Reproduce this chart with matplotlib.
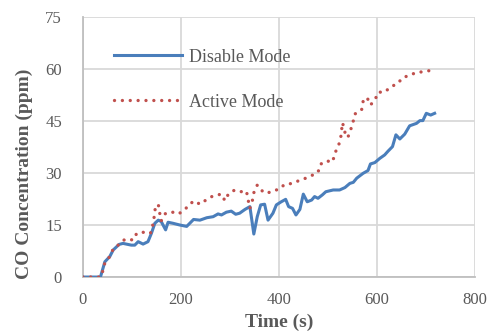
import matplotlib
matplotlib.use("Agg")
import matplotlib.pyplot as plt

# Disable Mode (blue solid line)
disable_t = [0, 20, 36, 45, 55, 62, 74, 82, 99, 106, 113, 123, 133, 140, 147, 154,
             160, 169, 174, 184, 198, 212, 226, 239, 253, 266, 276, 283, 293, 303,
             312, 320, 331, 341, 349, 356, 363, 371, 378, 388, 395, 405, 414, 420,
             428, 435, 443, 450, 458, 467, 473, 480, 489, 496, 511, 524, 535, 545,
             552, 559, 572, 582, 587, 596, 606, 616, 623, 632, 639, 647, 657, 667,
             681, 688, 694, 701, 710, 718]
disable_ppm = [0, 0, 0, 4.4, 5.9, 7.8, 9.4, 9.7, 9.2, 9.2, 10.2, 9.5, 10.2, 12.6,
               15.5, 16.4, 16.0, 13.6, 15.8, 15.5, 15.0, 14.6, 16.6, 16.4, 17.1,
               17.4, 18.2, 17.9, 18.7, 19.0, 18.1, 18.4, 19.5, 20.3, 12.4, 17.4,
               20.8, 21.0, 16.4, 18.4, 20.8, 21.7, 22.4, 20.3, 19.8, 17.9, 19.5,
               23.9, 21.7, 22.2, 23.2, 22.7, 23.7, 24.6, 25.1, 25.1, 25.8, 27.0,
               27.3, 28.5, 29.9, 30.7, 32.6, 33.0, 34.2, 35.2, 36.3, 37.6, 41.0,
               39.8, 41.2, 43.6, 44.3, 45.1, 45.1, 47.2, 46.7, 47.2]

# Active Mode (red dotted line)
active_t = [0, 21, 36, 41, 45, 55, 62, 74, 86, 103, 110, 123, 138, 142, 145, 147,
            154, 157, 160, 169, 183, 196, 208, 217, 225, 240, 253, 266, 283, 290,
            297, 310, 324, 334, 337, 341, 346, 349, 356, 363, 375, 387, 400, 412,
            428, 441, 455, 469, 480, 485, 496, 510, 514, 521, 526, 528, 530, 533,
            537, 541, 547, 552, 555, 562, 569, 572, 580, 587, 596, 603, 616, 629,
            642, 653, 666, 681, 697, 714]
active_ppm = [0, 0, 0, 1.8, 4.1, 5.9, 8.1, 9.4, 10.9, 10.7, 12.6, 12.9, 12.6, 14.5,
              16.6, 19.3, 21.0, 18.4, 16.2, 18.4, 18.7, 18.2, 19.6, 20.5, 21.9,
              21.0, 22.4, 23.4, 23.9, 22.0, 23.9, 25.1, 24.6, 24.8, 22.5, 19.8,
              22.0, 24.3, 26.5, 25.1, 24.1, 24.8, 25.3, 26.7, 27.0, 27.8, 28.5,
              29.4, 30.2, 32.5, 33.5, 33.2, 35.6, 37.6, 39.7, 42.2, 44.5, 42.9,
              40.5, 40.3, 42.6, 45.0, 47.0, 47.5, 48.2, 50.6, 51.8, 49.6, 51.0,
              53.3, 53.3, 54.9, 55.7, 57.5, 58.1, 59.0, 59.2, 59.7]

x_ticks = [0, 200, 400, 600, 800]
y_ticks = [0, 15, 30, 45, 60, 75]

SERIF = ["Liberation Serif", "DejaVu Serif"]
TXT = "#595959"
GRID = "#d9d9d9"

fig = plt.figure(figsize=(4.9, 3.31), dpi=100)
ax = fig.add_axes([0.169, 0.163, 0.800, 0.786])

ax.plot(disable_t, disable_ppm, color="#4a7ebb", lw=2.2, label="Disable Mode",
        solid_joinstyle="round", zorder=3)
ax.plot(active_t, active_ppm, color="#c0504d", lw=2.4, linestyle=(0, (0.01, 2.35)),
        dash_capstyle="round", label="Active Mode", zorder=3)

ax.set_xlim(0, 800)
ax.set_ylim(0, 75)
ax.set_xticks(x_ticks)
ax.set_yticks(y_ticks)
ax.grid(True, color=GRID, lw=1.3, zorder=0)
ax.set_axisbelow(True)
for side in ("top", "right"):
    ax.spines[side].set_visible(False)
for side in ("left", "bottom"):
    ax.spines[side].set_color("#bfbfbf")
    ax.spines[side].set_linewidth(1.3)
ax.tick_params(length=0, colors=TXT, labelsize=12)
ax.tick_params(axis="y", pad=15)
ax.tick_params(axis="x", pad=11)
for lab in ax.get_xticklabels() + ax.get_yticklabels():
    lab.set_family(SERIF)
    lab.set_color(TXT)

ax.set_xlabel("Time (s)", family=SERIF, fontsize=14, fontweight="bold",
              color=TXT)
ax.xaxis.set_label_coords(0.5, -0.142)
ax.set_ylabel("CO Concentration (ppm)", family=SERIF, fontsize=14,
              fontweight="bold", color=TXT)
ax.yaxis.set_label_coords(-0.128, 0.396)

leg = ax.legend(loc="upper left", bbox_to_anchor=(0.06, 0.905), frameon=False,
                prop={"family": SERIF, "size": 13}, handlelength=3.8,
                handletextpad=0.4, labelspacing=1.55, borderaxespad=0)
for t in leg.get_texts():
    t.set_color(TXT)

fig.savefig("out.png", dpi=100)
